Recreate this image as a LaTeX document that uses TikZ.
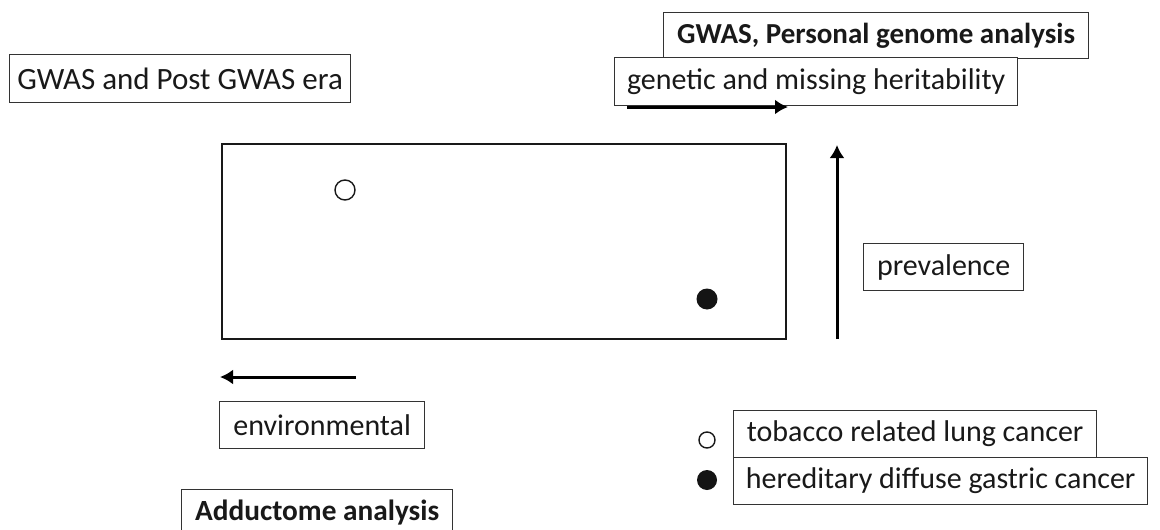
\documentclass[tikz,border=0pt]{standalone}
\usepackage{fontspec}
\setmainfont{Carlito}
\usetikzlibrary{arrows.meta}
\tikzset{
  lbl/.style={draw=black!80, line width=1.3pt, inner sep=0pt, font=\fontsize{30}{33}\selectfont, text=black!90},
  bold lbl/.style={lbl, font=\fontsize{29}{32}\selectfont\bfseries},
  arr/.style={line width=3pt, -{Latex[length=13pt,width=15pt]}},
  frame/.style={draw=black!90, line width=2.2pt},
  ocirc/.style={circle, draw=black!90, line width=1.4pt, fill=white, inner sep=0pt},
  fcirc/.style={circle, fill=black!92, inner sep=0pt},
}
\begin{document}
\begin{tikzpicture}[x=1pt,y=-1pt]
\useasboundingbox (0,0) rectangle (1160,530);
\clip (0,0) rectangle (1160,530);
\fill[white] (0,0) rectangle (1160,530);
% top-left label
\node[lbl, font=\fontsize{31}{34}\selectfont, minimum width=341pt, minimum height=48pt, anchor=north west] (era) at (9,54) {GWAS and Post GWAS era};
% top-right labels
\node[bold lbl, minimum width=425pt, minimum height=46pt, anchor=north west] (gwas) at (663,12) {GWAS, Personal genome analysis};
\node[lbl, fill=white, minimum width=403pt, minimum height=48pt, anchor=north west] (genetic) at (614,57) {genetic and missing heritability};
\coordinate (gs) at (627,107);
\coordinate (ge) at (788,107);
\draw[arr] (gs) -- (ge);
% main frame
\node[frame, minimum width=564pt, minimum height=195pt, anchor=north west, inner sep=0pt] (box) at (221,143) {};
\node[ocirc, minimum size=20pt] (o1) at (345,190) {};
\node[fcirc, minimum size=21pt] (f1) at (707,299) {};
% prevalence
\coordinate (vs) at (837,339);
\coordinate (ve) at (837,145);
\draw[arr] (vs) -- (ve);
\node[lbl, minimum width=160pt, minimum height=47pt, anchor=north west] (prev) at (863,243) {prevalence};
% environmental
\coordinate (hs) at (356,377);
\coordinate (he) at (220,377);
\draw[arr] (hs) -- (he);
\node[lbl, minimum width=205pt, minimum height=47pt, anchor=north west] (env) at (219,401) {environmental};
\node[bold lbl, font=\fontsize{29.3}{32}\selectfont\bfseries, minimum width=271pt, minimum height=46pt, anchor=north west] (add) at (181,489) {Adductome analysis};
% legend
\node[lbl, minimum width=363pt, minimum height=47pt, anchor=north west] (tob) at (733,410) {tobacco related lung cancer};
\node[lbl, minimum width=414pt, minimum height=47pt, anchor=north west] (her) at (733,457) {hereditary diffuse gastric cancer};
\node[ocirc, minimum size=16pt] (lo) at (707,440) {};
\node[fcirc, minimum size=20pt] (lf) at (707,480) {};
\end{tikzpicture}
\end{document}
